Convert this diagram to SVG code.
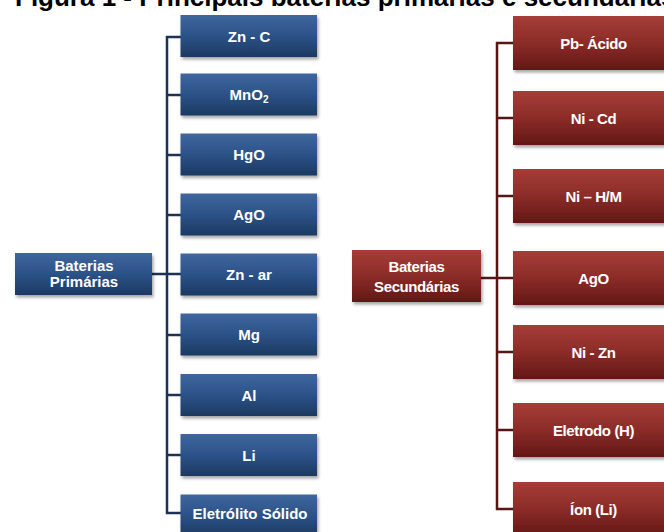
<svg xmlns="http://www.w3.org/2000/svg" width="664" height="532" viewBox="0 0 664 532">
<defs>
<linearGradient id="gb" x1="0" y1="0" x2="0" y2="1">
<stop offset="0" stop-color="#3f679d"/>
<stop offset="0.5" stop-color="#2c5288"/>
<stop offset="1" stop-color="#1c3961"/>
</linearGradient>
<linearGradient id="gr" x1="0" y1="0" x2="0" y2="1">
<stop offset="0" stop-color="#a53d37"/>
<stop offset="0.5" stop-color="#8b2c28"/>
<stop offset="1" stop-color="#631715"/>
</linearGradient>
<filter id="sh" x="-10%" y="-10%" width="125%" height="140%">
<feDropShadow dx="1.5" dy="2.5" stdDeviation="1.5" flood-color="#000" flood-opacity="0.35"/>
</filter>
</defs>
<style>
.b{fill:url(#gb);filter:url(#sh)}
.r{fill:url(#gr);filter:url(#sh)}
.t{font-family:"Liberation Sans",Arial,sans-serif;font-weight:bold;font-size:15px;fill:#fff;text-anchor:middle}
.tr{letter-spacing:-0.4px}
.cb{fill:none;stroke:#1b3355;stroke-width:2.5}
.cr{fill:none;stroke:#571513;stroke-width:2.5}
.title{font-family:"Liberation Sans",Arial,sans-serif;font-weight:bold;font-size:26px;fill:#000}
</style>
<text class="title" x="15" y="6">Figura 1 - Principais baterias primárias e secundárias</text>
<g id="connectors">
<path class="cb" d="M181,37 H167 V513 H181 M167,95 H181 M167,155 H181 M167,215 H181 M152,274 H181 M167,335 H181 M167,395 H181 M167,455 H181"/>
<path class="cr" d="M513,43 H497 V509 H513 M497,118 H513 M497,196 H513 M481,278 H513 M497,352 H513 M497,430 H513"/>
</g>
<g id="p-root"><rect class="b" x="15" y="253" width="137" height="42"/><text class="t" x="84" y="271">Baterias</text><text class="t" x="84" y="287">Primárias</text></g>
<g id="p1"><rect class="b" x="180.5" y="15" width="136.5" height="42"/><text class="t" x="249" y="41.5">Zn - C</text></g>
<g id="p2"><rect class="b" x="180.5" y="73.5" width="136.5" height="42"/><text class="t" x="249" y="100">MnO<tspan font-size="10" dy="3">2</tspan></text></g>
<g id="p3"><rect class="b" x="180.5" y="133.5" width="136.5" height="42"/><text class="t" x="249" y="160">HgO</text></g>
<g id="p4"><rect class="b" x="180.5" y="193.5" width="136.5" height="42"/><text class="t" x="249" y="220">AgO</text></g>
<g id="p5"><rect class="b" x="180.5" y="253.5" width="136.5" height="42"/><text class="t" x="249" y="280">Zn - ar</text></g>
<g id="p6"><rect class="b" x="180.5" y="313.5" width="136.5" height="42"/><text class="t" x="249" y="340">Mg</text></g>
<g id="p7"><rect class="b" x="180.5" y="374" width="136.5" height="42"/><text class="t" x="249" y="400.5">Al</text></g>
<g id="p8"><rect class="b" x="180.5" y="434" width="136.5" height="42"/><text class="t" x="249" y="460.5">Li</text></g>
<g id="p9"><rect class="b" x="180.5" y="494.5" width="136.5" height="42"/><text class="t" x="250" y="519">Eletrólito Sólido</text></g>
<g id="s-root"><rect class="r" x="352" y="250" width="129" height="52"/><text class="t tr" x="416.5" y="272">Baterias</text><text class="t tr" x="416.5" y="292">Secundárias</text></g>
<g id="s1"><rect class="r" x="513" y="16" width="161" height="54"/><text class="t tr" x="593.5" y="48.5">Pb- Ácido</text></g>
<g id="s2"><rect class="r" x="513" y="91" width="161" height="54"/><text class="t tr" x="593.5" y="123.5">Ni - Cd</text></g>
<g id="s3"><rect class="r" x="513" y="169" width="161" height="54"/><text class="t tr" x="593.5" y="201.5">Ni – H/M</text></g>
<g id="s4"><rect class="r" x="513" y="251" width="161" height="54"/><text class="t tr" x="593.5" y="283.5">AgO</text></g>
<g id="s5"><rect class="r" x="513" y="325" width="161" height="54"/><text class="t tr" x="593.5" y="357.5">Ni - Zn</text></g>
<g id="s6"><rect class="r" x="513" y="403" width="161" height="54"/><text class="t tr" x="593.5" y="435.5">Eletrodo (H)</text></g>
<g id="s7"><rect class="r" x="513" y="482" width="161" height="54"/><text class="t tr" x="593.5" y="514.5">Íon (Li)</text></g>
</svg>
